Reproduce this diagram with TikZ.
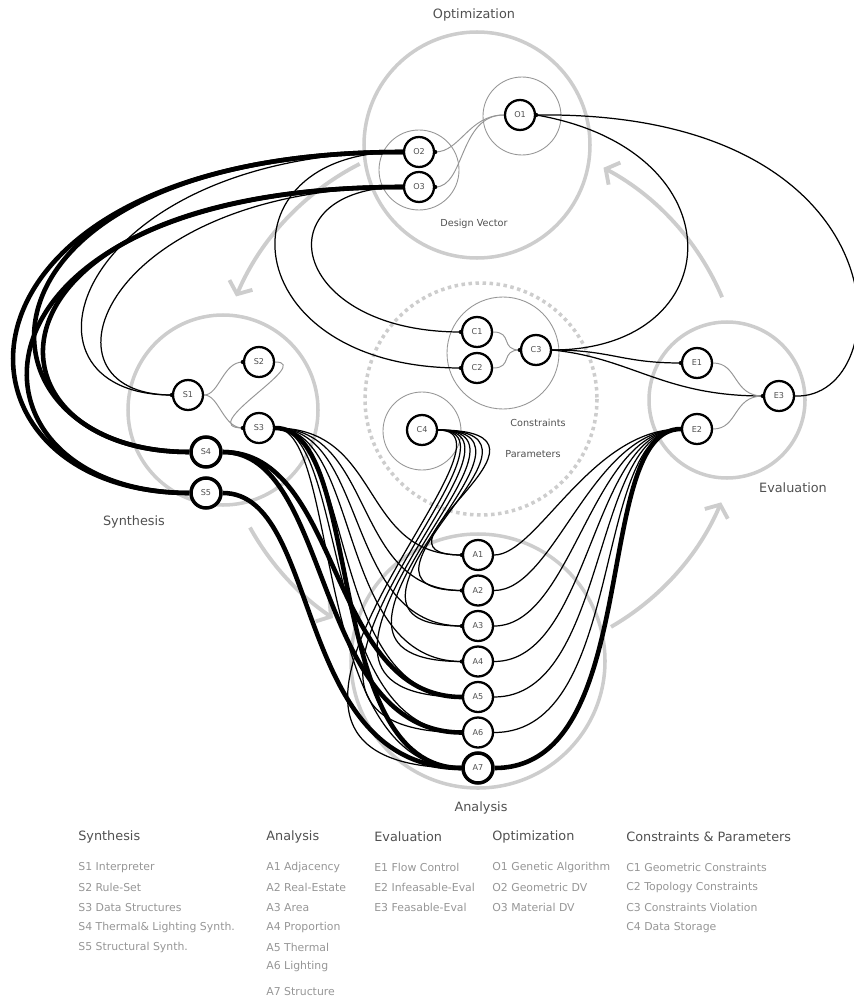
\documentclass[tikz,border=0pt]{standalone}
\usepackage{fontspec}
\setmainfont{DejaVu Sans}
\usetikzlibrary{arrows.meta,backgrounds}

\definecolor{ringgray}{RGB}{205,205,205}
\definecolor{inkgray}{RGB}{80,80,80}
\definecolor{softgray}{RGB}{150,150,150}

\begin{document}
\begin{tikzpicture}[x=0.02cm, y=-0.02cm,
    unit/.style={circle, draw, line width=1.3pt, fill=white, minimum size=0.6cm, inner sep=0pt, font=\fontsize{4.6}{5}\selectfont, text=inkgray},
    heavy/.style={unit, line width=2pt},
    stage/.style={draw=ringgray, line width=2pt},
    group/.style={draw=softgray, line width=0.5pt},
    cycle/.style={draw=ringgray, line width=2.2pt, -{Straight Barb[length=0.2cm, width=0.5cm]}},
    wire/.style={line width=0.7pt},
    tie/.style={draw=softgray, line width=0.55pt},
    cable/.style={line width=2.6pt},
    title/.style={font=\fontsize{7.3}{8}\selectfont, text=inkgray},
    note/.style={font=\fontsize{5.5}{6}\selectfont, text=inkgray},
    head/.style={anchor=west, inner sep=0pt, font=\fontsize{7.3}{8}\selectfont, text=inkgray},
    item/.style={anchor=west, inner sep=0pt, font=\fontsize{6.2}{7}\selectfont, text=softgray}]
\useasboundingbox (0,0) rectangle (853,1000);

% optimization
\node[unit] (O1) at (520,115) {O1};
\node[unit] (O2) at (419,152) {O2};
\node[unit] (O3) at (419,187) {O3};
% synthesis
\node[unit] (S1) at (188,395) {S1};
\node[unit] (S2) at (259,362) {S2};
\node[unit] (S3) at (259,428) {S3};
\node[heavy] (S4) at (206,452) {S4};
\node[heavy] (S5) at (206,493) {S5};
% constraints & parameters
\node[unit] (C1) at (477,332) {C1};
\node[unit] (C2) at (477,368) {C2};
\node[unit] (C3) at (536,350) {C3};
\node[unit] (C4) at (422,430) {C4};
% evaluation
\node[unit] (E1) at (697,363) {E1};
\node[unit] (E2) at (697,429) {E2};
\node[unit] (E3) at (779,396) {E3};
% analysis
\foreach \i in {1,...,6}
  \node[unit] (A\i) at (478,{519.5+35.5*\i}) {A\i};
\node[heavy] (A7) at (478,768) {A7};

\node[title] (tOpt) at (474,15) {Optimization};
\node[note] (tDV) at (474,224) {Design Vector};
\node[title] (tSyn) at (134,522) {Synthesis};
\node[note] (tCon) at (538,423) {Constraints};
\node[note] (tPar) at (533,454) {Parameters};
\node[title] (tEva) at (793,488) {Evaluation};
\node[title] (tAna) at (481,808) {Analysis};

\begin{scope}[on background layer]
  % stage rings and the cycle between them
  \draw[stage] (477,145) circle (113);
  \draw[stage] (223,410) circle (95);
  \draw[stage] (727,400) circle (78);
  \draw[stage] (478,661) circle (127);
  \draw[draw=ringgray, line width=2pt, dash pattern=on 2pt off 2pt] (481,399) circle (116);
  \draw[group] (522,116) circle (39);
  \draw[group] (419,170) circle (40);
  \draw[group] (503,353) circle (56);
  \draw[group] (422,431) circle (39);
  \draw[cycle] (480,400) ++(-23:263) arc[start angle=-23, end angle=-62, radius=263];
  \draw[cycle] (480,400) ++(-117:265) arc[start angle=-117, end angle=-157, radius=265];
  \draw[cycle] (480,400) ++(151:263) arc[start angle=151, end angle=124, radius=263];
  \draw[cycle] (480,400) ++(60:262) arc[start angle=60, end angle=23, radius=262];

  % design vector
  \draw[tie] (O1.west) .. controls +(-35,0) and +(25,0) .. (O2.east);
  \draw[tie] (O1.west) .. controls +(-45,0) and +(30,0) .. (O3.east);
  % feedback into O1
  \draw[wire] (C3.east) .. controls +(179,0) and +(204,35) .. (O1.east);
  \draw[wire] (E3.east) .. controls +(105,4) and +(374,-5) .. (O1.east);
  % constraints and evaluation
  \draw[wire] (C3.east) .. controls +(60,0) and +(-60,0) .. (E1.west);
  \draw[wire] (C3.east) .. controls +(80,8) and +(-100,0) .. (E3.west);
  \draw[tie] (E1.east) .. controls +(25,0) and +(-30,0) .. (E3.west);
  \draw[tie] (E2.east) .. controls +(25,0) and +(-30,0) .. (E3.west);
  \draw[tie] (C1.east) .. controls +(20,0) and +(-20,0) .. (C3.west);
  \draw[tie] (C2.east) .. controls +(20,0) and +(-20,0) .. (C3.west);
  % inside synthesis
  \draw[tie] (S1.east) .. controls +(15,0) and +(-20,0) .. (S2.west);
  \draw[tie] (S1.east) .. controls +(15,0) and +(-20,0) .. (S3.west);
  \draw[tie] (S2.east) .. controls +(40,0) and +(-50,0) .. (S3.west);

  % design vector into synthesis
  \draw[wire] (O2.west) .. controls +(-330,0) and +(-173,0) .. (S1.west);
  \draw[wire] (O3.west) .. controls +(-303,0) and +(-143,0) .. (S1.west);
  \draw[cable] (O2.west) .. controls +(-480,0) and +(-260,0) .. (S5.west);
  \draw[cable] (O3.west) .. controls +(-463,0) and +(-240,0) .. (S5.west);
  \draw[cable] (O2.west) .. controls +(-453,0) and +(-230,0) .. (S4.west);
  \draw[cable] (O3.west) .. controls +(-438,0) and +(-220,0) .. (S4.west);
  % design vector into constraints
  \draw[wire] (O2.west) .. controls +(-188,-2) and +(-227,0) .. (C2.west);
  \draw[wire] (O3.west) .. controls +(-143,0) and +(-172,0) .. (C1.west);

  % synthesis and parameters into analysis
  \foreach \i in {1,...,7}{
    \draw[wire] (S3.east) .. controls +({115-7*\i},0) and +({-95-8*\i},0) .. (A\i.west);
    \draw[wire] (C4.east) .. controls +({158-8*\i},0) and +({-80-30*\i},0) .. (A\i.west);
  }
  \draw[cable] (S3.east) .. controls +(90,0) and +(-140,0) .. (A7.west);
  \draw[cable] (S4.east) .. controls +(120,0) and +(-135,0) .. (A5.west);
  \draw[cable] (S4.east) .. controls +(110,0) and +(-150,0) .. (A6.west);
  \draw[cable] (S5.east) .. controls +(100,0) and +(-170,0) .. (A7.west);
  % analysis into evaluation
  \foreach \i in {1,...,6}
    \draw[wire] (A\i.east) .. controls +({25+18*\i},0) and +(-90,0) .. (E2.west);
  \draw[cable] (A7.east) .. controls +(150,0) and +(-90,0) .. (E2.west);
\end{scope}

% input points
\foreach \p in {O1.east, O2.east, O3.east, S1.west, S2.west, S3.west, C1.west, C2.west, C3.west, E1.west, E3.west}
  \fill (\p) circle (2.2);
\foreach \i in {1,...,7}
  \fill (A\i.west) circle (2.2);

% legend
\node[head] (hS) at (78,837) {Synthesis};
\node[head] (hA) at (266,837) {Analysis};
\node[head] (hE) at (374,837) {Evaluation};
\node[head] (hO) at (492,837) {Optimization};
\node[head] (hC) at (626,837) {Constraints \& Parameters};
\foreach \t [count=\k] in {S1 Interpreter, S2 Rule-Set, S3 Data Structures, S4 Thermal\& Lighting Synth., S5 Structural Synth.}
  \node[item] (lS\k) at (78,{848+19.8*\k}) {\t};
\foreach \t [count=\k] in {A1 Adjacency, A2 Real-Estate, A3 Area, A4 Proportion, A5 Thermal, A6 Lighting}
  \node[item] (lA\k) at (266,{848+19.8*\k}) {\t};
\node[item] (lA7) at (266,992) {A7 Structure};
\foreach \t [count=\k] in {E1 Flow Control, E2 Infeasable-Eval, E3 Feasable-Eval}
  \node[item] (lE\k) at (374,{848+19.8*\k}) {\t};
\foreach \t [count=\k] in {O1 Genetic Algorithm, O2 Geometric DV, O3 Material DV}
  \node[item] (lO\k) at (492,{848+19.8*\k}) {\t};
\foreach \t [count=\k] in {C1 Geometric Constraints, C2 Topology Constraints, C3 Constraints Violation, C4 Data Storage}
  \node[item] (lC\k) at (626,{848+19.8*\k}) {\t};
\end{tikzpicture}
\end{document}
